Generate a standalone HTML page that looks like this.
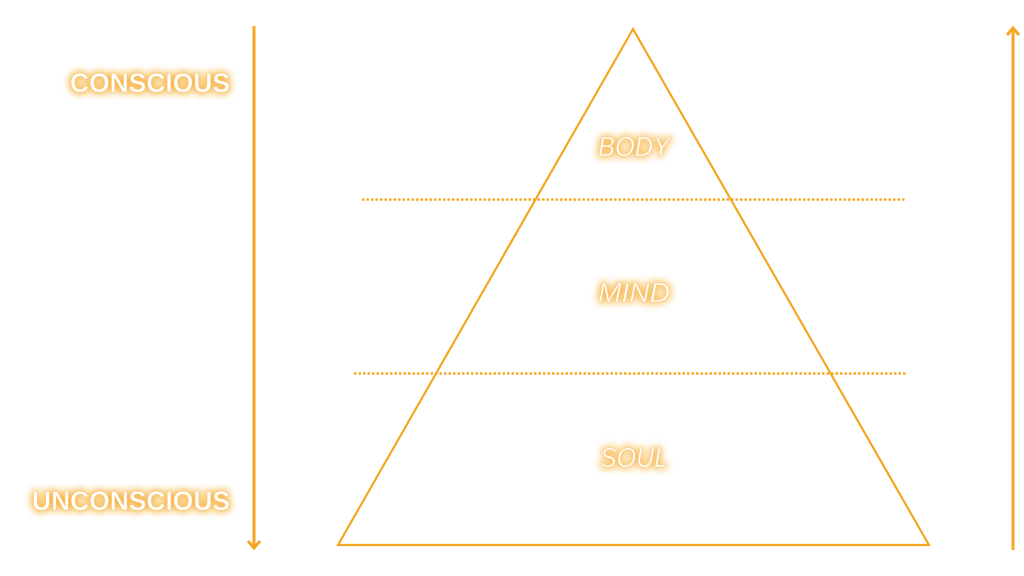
<!DOCTYPE html>
<html><head><style>
html,body{margin:0;padding:0;background:#fff;width:1024px;height:576px;overflow:hidden}
svg text{font-family:"Liberation Sans",sans-serif;fill:#fff;stroke:#f8c878;stroke-width:0.6;}
</style></head><body>
<svg width="1024" height="576" viewBox="0 0 1024 576" xmlns="http://www.w3.org/2000/svg">
<defs>
<filter id="g" x="-30%" y="-60%" width="160%" height="220%">
<feGaussianBlur in="SourceAlpha" stdDeviation="4" result="b"/>
<feFlood flood-color="#f5a623" flood-opacity="0.9"/>
<feComposite in2="b" operator="in" result="c"/>
<feMerge><feMergeNode in="c"/><feMergeNode in="c"/><feMergeNode in="SourceGraphic"/></feMerge>
</filter>
</defs>
<g stroke="#f5a623" fill="none" stroke-width="2.2">
<polygon points="633,29 338,545 929,545"/>
<g stroke-width="3">
<line x1="254" y1="26" x2="254" y2="548"/>
<polyline points="248,541 254,548 260,541"/>
<line x1="1013" y1="28" x2="1013" y2="550"/>
<polyline points="1007,35 1013,28 1019,35"/>
</g>
<line x1="362" y1="199.5" x2="906" y2="199.5" stroke-dasharray="2.5,2" stroke-width="2.5"/>
<line x1="354" y1="373.5" x2="906" y2="373.5" stroke-dasharray="2.5,2" stroke-width="2.5"/>
</g>
<g filter="url(#g)" font-size="27" font-weight="bold">
<text x="70" y="92" textLength="160" lengthAdjust="spacingAndGlyphs">CONSCIOUS</text>
<text x="32" y="510" textLength="198" lengthAdjust="spacingAndGlyphs">UNCONSCIOUS</text>
<g font-weight="normal" font-style="italic" font-size="28">
<text x="598" y="156" textLength="72" lengthAdjust="spacingAndGlyphs">BODY</text>
<text x="598" y="302" textLength="72" lengthAdjust="spacingAndGlyphs">MIND</text>
<text x="600" y="467" textLength="68" lengthAdjust="spacingAndGlyphs">SOUL</text>
</g>
</g>
</svg>
</body></html>
